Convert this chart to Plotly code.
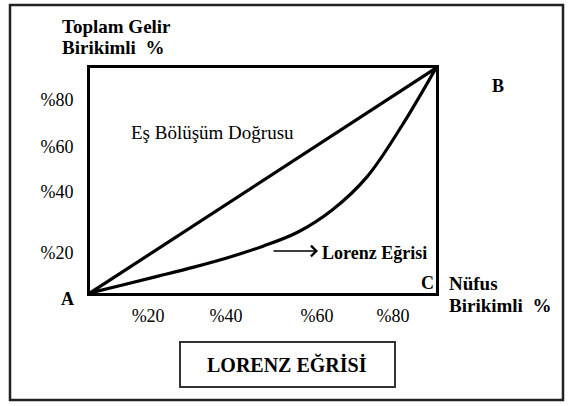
import plotly.graph_objects as go

# ---- data ----
equal_x = [0, 100]
equal_y = [0, 100]

lorenz_x = [0, 10, 20, 30, 40, 50, 60, 70, 80, 90, 100]
lorenz_y = [0, 3.8, 7.6, 11.5, 15.8, 20.8, 27.0, 36.9, 51.5, 74.0, 100]

x_tick_pos = [16.8, 39.3, 65.6, 87.6]
x_tick_labels = ["%20", "%40", "%60", "%80"]
y_tick_pos = [17.8, 44.9, 64.9, 85.8]
y_tick_labels = ["%20", "%40", "%60", "%80"]

W, H = 568, 406
FONT = "Liberation Serif, Times New Roman, serif"


def px(x):
    return x / W


def py(y):
    return 1 - y / H


fig = go.Figure()
fig.add_trace(go.Scatter(x=equal_x, y=equal_y, mode="lines",
                         line=dict(color="black", width=3.2), hoverinfo="skip"))
fig.add_trace(go.Scatter(x=lorenz_x, y=lorenz_y, mode="lines",
                         line=dict(color="black", width=3.2, shape="spline", smoothing=1),
                         hoverinfo="skip"))

annotations = []


def txt(text, x, y, size=18, bold=False, xanchor="center", yanchor="middle"):
    annotations.append(dict(
        text=f"<b>{text}</b>" if bold else text,
        x=px(x), y=py(y), xref="paper", yref="paper",
        xanchor=xanchor, yanchor=yanchor, showarrow=False,
        font=dict(family=FONT, size=size, color="black")))


txt("Toplam Gelir", 60, 26, size=19, bold=True, xanchor="left")
txt("Birikimli  %", 60, 47, size=19, bold=True, xanchor="left")
txt("Nüfus", 447, 283, size=19, bold=True, xanchor="left")
txt("Birikimli  %", 447, 305, size=19, bold=True, xanchor="left")
txt("A", 67, 299, bold=True)
txt("B", 498, 86, bold=True)
txt("C", 427, 283, bold=True)
txt("Eş Bölüşüm Doğrusu", 212, 132, size=19)
txt("Lorenz Eğrisi", 320, 253, size=18, bold=True, xanchor="left")
txt("LORENZ EĞRİSİ", 287, 364, size=20, bold=True)

# arrow pointing to "Lorenz Eğrisi"
annotations.append(dict(
    text="", x=px(318), y=py(251), xref="paper", yref="paper",
    showarrow=True, ax=-46, ay=0, arrowhead=4, arrowsize=1.6, arrowwidth=1.3,
    arrowcolor="black", standoff=0, startstandoff=0))

shapes = [
    # outer frame
    dict(type="rect", xref="paper", yref="paper",
         x0=px(10), x1=px(563), y0=py(400), y1=py(5),
         line=dict(color="#222222", width=2.5)),
    # title box
    dict(type="rect", xref="paper", yref="paper",
         x0=px(180), x1=px(395), y0=py(387), y1=py(342),
         line=dict(color="#333333", width=2)),
]

axis_common = dict(showgrid=False, zeroline=False, showline=True, linewidth=3,
                   linecolor="black", mirror=True, ticks="outside",
                   tickcolor="rgba(0,0,0,0)",
                   tickfont=dict(family=FONT, size=18, color="black"),
                   range=[0, 100], fixedrange=True)

fig.update_layout(
    width=W, height=H,
    margin=dict(l=0, r=0, t=0, b=0),
    paper_bgcolor="white", plot_bgcolor="white",
    showlegend=False,
    xaxis=dict(axis_common, domain=[px(90), px(436)],
               tickvals=x_tick_pos, ticktext=x_tick_labels, ticklen=4),
    yaxis=dict(axis_common, domain=[py(293), py(68)],
               tickvals=y_tick_pos, ticktext=y_tick_labels, ticklen=10),
    annotations=annotations,
    shapes=shapes,
    font=dict(family=FONT),
)

fig.write_html("out.html", config={"displayModeBar": False},
               post_script="document.body.style.margin='0';document.body.style.overflow='hidden';")
